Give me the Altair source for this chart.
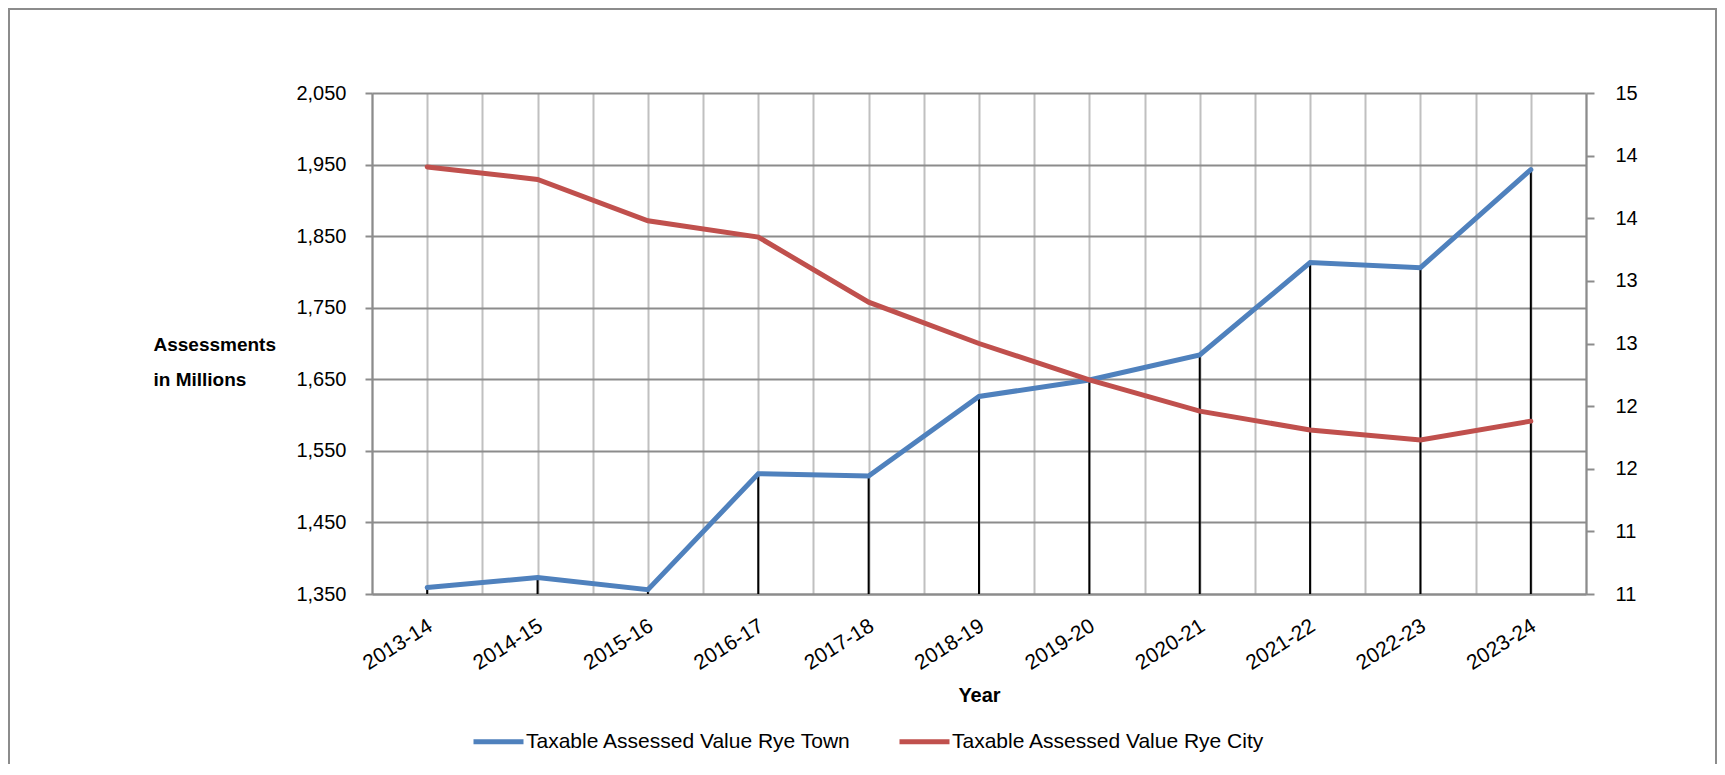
import altair as alt
import pandas as pd

years = ["2013-14", "2014-15", "2015-16", "2016-17", "2017-18", "2018-19",
         "2019-20", "2020-21", "2021-22", "2022-23", "2023-24"]
town = [1359, 1373, 1356, 1518, 1515, 1626, 1649, 1684, 1813, 1806, 1943]
city = [14.41, 14.31, 13.98, 13.85, 13.33, 13.00, 12.71, 12.46, 12.31, 12.23, 12.38]
series_names = ["Taxable Assessed Value Rye Town", "Taxable Assessed Value Rye City"]
colors = ["#4F81BD", "#C0504D"]
left_ticks = [1350, 1450, 1550, 1650, 1750, 1850, 1950, 2050]
right_ticks = [11, 11.5, 12, 12.5, 13, 13.5, 14, 14.5, 15]

FONT = "Liberation Sans"
GRID_DARK = "#8c8c8c"
GRID_LIGHT = "#c0c0c0"

n = len(years)
df = pd.DataFrame({"year": years, "idx": list(range(n)), "town": town, "city": city})
half_ticks = [i / 2 - 0.5 for i in range(2 * n + 1)]
year_js = "[" + ",".join(f"'{y}'" for y in years) + "]"

x_enc = alt.X(
    "idx:Q",
    scale=alt.Scale(domain=[-0.5, n - 0.5], nice=False, zero=False),
    axis=alt.Axis(
        values=half_ticks, grid=True, gridColor=GRID_LIGHT, gridWidth=2,
        ticks=False, domainColor=GRID_DARK, domainWidth=2,
        labelExpr=f"datum.value % 1 == 0 ? {year_js}[datum.value] : ''",
        labelAngle=-32, labelAlign="right", labelBaseline="middle",
        labelPadding=30, labelOffset=3, labelFontSize=21, labelFont=FONT,
        labelColor="#000000", labelOverlap=False,
        title="Year", titleFont=FONT, titleFontSize=20, titleFontWeight="bold",
        titleBaseline="alphabetic", titleY=107, titleColor="#000000",
    ),
)

y_left = alt.Y(
    "town:Q",
    scale=alt.Scale(domain=[left_ticks[0], left_ticks[-1]], nice=False, zero=False),
    axis=alt.Axis(
        values=left_ticks, labelExpr="format(datum.value, ',.0f')",
        grid=True, gridColor=GRID_DARK, gridWidth=2,
        tickColor=GRID_DARK, tickWidth=2, tickSize=7,
        domainColor=GRID_DARK, domainWidth=2,
        labelPadding=19, labelFontSize=20, labelFont=FONT, labelColor="#000000",
        title=["Assessments", "in Millions"], titleAngle=0, titleAlign="left",
        titleBaseline="alphabetic", titleX=-219, titleY=257, titleFont=FONT,
        titleFontSize=19, titleFontWeight="bold", titleLineHeight=35,
        titleColor="#000000",
    ),
)

y_right = alt.Y(
    "city:Q",
    scale=alt.Scale(domain=[right_ticks[0], right_ticks[-1]], nice=False, zero=False),
    axis=alt.Axis(
        orient="right", values=right_ticks, labelExpr="'' + floor(datum.value)",
        grid=False, tickColor=GRID_DARK, tickWidth=2, tickSize=8,
        domainColor=GRID_DARK, domainWidth=2,
        labelPadding=21, labelFontSize=20, labelFont=FONT, labelColor="#000000",
        title=None,
    ),
)

color_enc = alt.Color(
    "series:N",
    scale=alt.Scale(domain=series_names, range=colors),
    legend=alt.Legend(
        orient="none", legendX=99, legendY=621, direction="horizontal",
        title=None, symbolType="stroke", symbolStrokeWidth=5, symbolSize=2500,
        labelFont=FONT, labelFontSize=21, labelColor="#000000", labelLimit=0,
        labelOffset=0, columnPadding=37, padding=0,
    ),
)

frame = alt.Chart(pd.DataFrame({"a": [0]})).mark_rect(
    filled=False, stroke="#8c8c8c", strokeWidth=2
).encode(
    x=alt.value(-363), x2=alt.value(1344), y=alt.value(-84), y2=alt.value(800)
)

rules = alt.Chart(df).mark_rule(color="black", strokeWidth=2).encode(
    x=x_enc, y=y_left, y2=alt.datum(left_ticks[0])
)

town_line = alt.Chart(df).transform_calculate(
    series=f"'{series_names[0]}'"
).mark_line(strokeWidth=5, strokeCap="round").encode(
    x=x_enc, y=y_left, color=color_enc
)

city_line = alt.Chart(df).transform_calculate(
    series=f"'{series_names[1]}'"
).mark_line(strokeWidth=5, strokeCap="round").encode(
    x=x_enc, y=y_right, color=color_enc
)

left = alt.layer(rules, town_line)

chart = alt.layer(frame, left, city_line).resolve_scale(
    y="independent"
).properties(
    width=1214, height=501,
    padding={"left": 364, "top": 85, "right": 131, "bottom": 170},
    autosize=alt.AutoSizeParams(type="none"),
).configure_view(strokeWidth=0)

chart.save("out.html", embed_options={"renderer": "svg", "actions": False})
